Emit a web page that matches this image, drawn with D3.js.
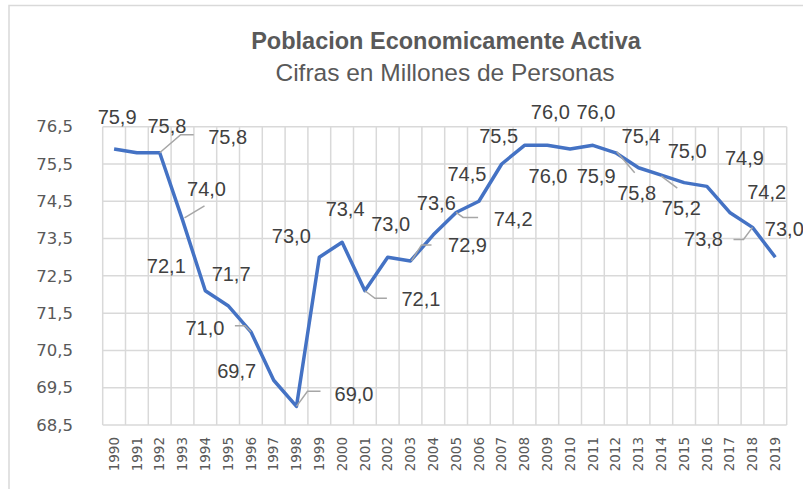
<!DOCTYPE html>
<html>
<head>
<meta charset="utf-8">
<script src="https://cdn.jsdelivr.net/npm/d3@7"></script>
<style>
  body { margin: 0; background: #fff; }
  svg { display: block; }
</style>
</head>
<body>
<script>
// data
var years = ["1990","1991","1992","1993","1994","1995","1996","1997","1998","1999",
             "2000","2001","2002","2003","2004","2005","2006","2007","2008","2009",
             "2010","2011","2012","2013","2014","2015","2016","2017","2018","2019"];
var pea = [75.9, 75.8, 75.8, 74.0, 72.1, 71.7, 71.0, 69.7, 69.0, 73.0,
           73.4, 72.1, 73.0, 72.9, 73.6, 74.2, 74.5, 75.5, 76.0, 76.0,
           75.9, 76.0, 75.8, 75.4, 75.2, 75.0, 74.9, 74.2, 73.8, 73.0];
var yTicks = [68.5, 69.5, 70.5, 71.5, 72.5, 73.5, 74.5, 75.5, 76.5];

// where each data label sits relative to its point (pixels), as Excel left them
var labelOffsets = [[3,-25],[30,-20],[68,-9],[24,-24],[-39,-18],[3,-25],[-46,3],[-37,-2],[57.5,-5],[-28,-14],
                    [3,-26],[56,15],[3,-26],[57,-9],[3,-25],[57,13.5],[-12,-20],[-3,-21],[23.5,37.6],[3,-26],
                    [26,34],[3,-26],[21,47],[2.5,-25],[20,40],[3,-25],[37.5,-21],[37,-13.5],[-49,19],[9,-21]];
var leaders = {
  2: [[0,0],[21,-18],[34,-18]],
  3: [[2,-2],[22,-14]],
  6: [[0,0],[-6,-6],[-16,-6]],
  8: [[0,0],[11,-15],[24,-15]],
  11: [[0,0],[10,7.5],[22,7.5]],
  13: [[1,0],[11,-16],[21,-16]],
  15: [[0,0],[7,5],[22,5]],
  22: [[1,-1],[19,20]],
  24: [[0,1],[16,13]],
  28: [[0,0],[-9,12],[-19,12]]
};

var svgWidth = 803, svgHeight = 489;
var plot = { left: 102.7, right: 786.7, top: 126.7, bottom: 425 };

var svg = d3.select("body").append("svg")
    .attr("width", svgWidth)
    .attr("height", svgHeight);

// chart border (only left and top visible in the crop)
svg.append("rect")
    .attr("x", 9).attr("y", 5.5)
    .attr("width", 900).attr("height", 600)
    .attr("fill", "none")
    .attr("stroke", "#d9d9d9")
    .attr("stroke-width", 1.5);

var comma = d3.formatLocale({ decimal: ",", thousands: ".", grouping: [3], currency: ["", ""] }).format(".1f");

var x = d3.scaleBand().domain(years).range([plot.left, plot.right]);
var y = d3.scaleLinear().domain([68.5, 76.5]).range([plot.bottom, plot.top]);

// title
svg.append("text")
    .attr("x", 446).attr("y", 49)
    .attr("text-anchor", "middle")
    .style("font-family", "'Liberation Sans', Arial, sans-serif")
    .style("font-size", "23.5px")
    .style("font-weight", "bold")
    .attr("fill", "#595959")
    .text("Poblacion Economicamente Activa");
svg.append("text")
    .attr("x", 445).attr("y", 81)
    .attr("text-anchor", "middle")
    .style("font-family", "'Liberation Sans', Arial, sans-serif")
    .style("font-size", "24.5px")
    .attr("fill", "#595959")
    .text("Cifras en Millones de Personas");

// gridlines
var grid = svg.append("g").attr("stroke", "#d9d9d9").attr("stroke-width", 1.5);
grid.selectAll("line.h")
    .data(yTicks)
    .enter().append("line")
    .attr("x1", plot.left).attr("x2", plot.right)
    .attr("y1", d => y(d)).attr("y2", d => y(d));
var edges = years.map(d => x(d)).concat([plot.right]);
grid.selectAll("line.v")
    .data(edges)
    .enter().append("line")
    .attr("x1", d => d).attr("x2", d => d)
    .attr("y1", plot.top).attr("y2", plot.bottom);

// y axis labels
var leftAxis = d3.axisLeft(y).tickValues(yTicks).tickFormat(comma).tickSize(0).tickPadding(0);
var yg = svg.append("g")
    .attr("transform", "translate(73,0)")
    .call(leftAxis);
yg.select(".domain").remove();
yg.selectAll("text")
    .style("font-family", "'DejaVu Sans', sans-serif")
    .style("font-size", "16.5px")
    .attr("fill", "#595959");

// x axis labels
var bottomAxis = d3.axisBottom(x).tickSize(0).tickPadding(0);
var xg = svg.append("g")
    .attr("transform", "translate(0," + plot.bottom + ")")
    .call(bottomAxis);
xg.select(".domain").remove();
xg.selectAll("text")
    .attr("transform", "rotate(-90)")
    .attr("x", -12)
    .attr("y", 0)
    .attr("dy", "0.35em")
    .attr("text-anchor", "end")
    .style("font-family", "'DejaVu Sans', sans-serif")
    .style("font-size", "13.5px")
    .attr("fill", "#595959");

// line
var line = d3.line()
    .x((d, i) => x(years[i]) + x.bandwidth() / 2)
    .y(d => y(d));
svg.append("path")
    .datum(pea)
    .attr("fill", "none")
    .attr("stroke", "#4472c4")
    .attr("stroke-width", 3.5)
    .attr("stroke-linejoin", "round")
    .attr("d", line);

// leader lines
Object.keys(leaders).forEach(function(k) {
  var i = +k;
  var px = x(years[i]) + x.bandwidth() / 2, py = y(pea[i]);
  svg.append("path")
      .attr("fill", "none")
      .attr("stroke", "#a6a6a6")
      .attr("stroke-width", 1.5)
      .attr("d", d3.line()(leaders[k].map(p => [px + p[0], py + p[1]])));
});

// data labels
svg.append("g").selectAll("text")
    .data(pea)
    .enter().append("text")
    .attr("x", (d, i) => x(years[i]) + x.bandwidth() / 2 + labelOffsets[i][0])
    .attr("y", (d, i) => y(d) + labelOffsets[i][1])
    .attr("text-anchor", "middle")
    .style("font-family", "'Liberation Sans', Arial, sans-serif")
    .style("font-size", "20px")
    .attr("fill", "#404040")
    .text(d => comma(d));
</script>
</body>
</html>
